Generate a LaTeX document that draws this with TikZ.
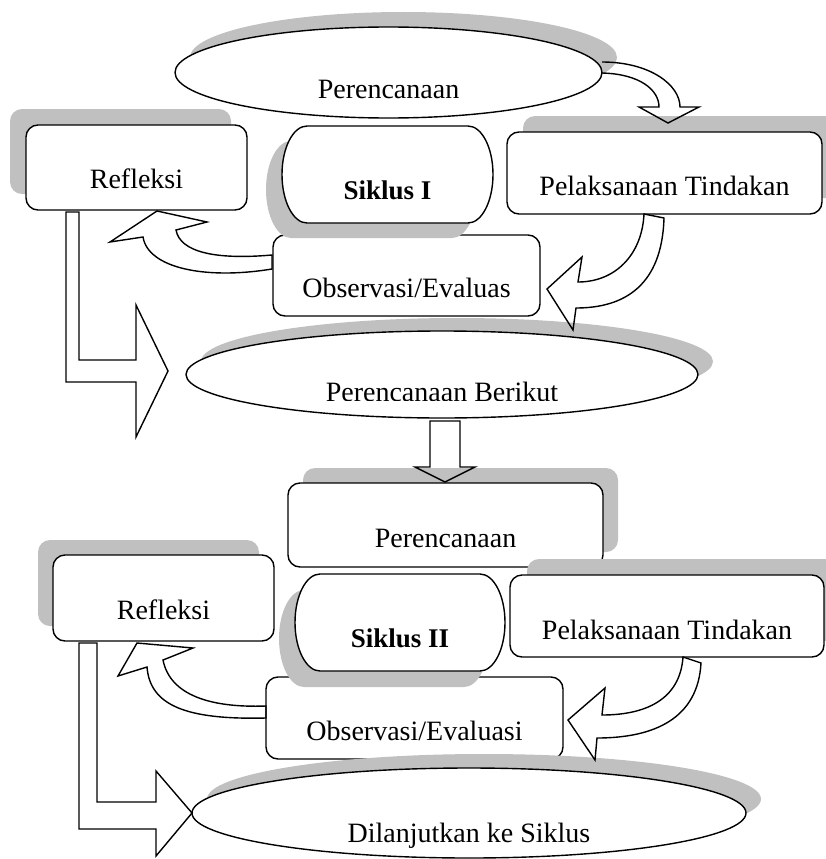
\documentclass[tikz,border=0pt]{standalone}
\usepackage{fontspec}
\setmainfont{Liberation Serif}
\usetikzlibrary{shapes.geometric,shadows}
\definecolor{shadowgray}{RGB}{192,192,192}
\begin{document}
\begin{tikzpicture}[x=1pt,y=-1pt,
  lw/.style={line width=1.4pt},
  box/.style={draw, line width=1.4pt, fill=white, rounded corners=12pt, rectangle, inner sep=0pt, outer sep=0pt},
  ell/.style={draw, line width=1.4pt, fill=white, ellipse, inner sep=0pt, outer sep=0pt},
  shad/.style 2 args={drop shadow={shadow xshift=#1, shadow yshift=#2, fill=shadowgray, opacity=1}},
  lbl/.style={anchor=base, inner sep=0pt, font=\fontsize{28}{33}\selectfont},
  blbl/.style={anchor=base, inner sep=0pt, font=\fontsize{27}{32}\selectfont\bfseries},
  barrow/.style={draw, line width=1.4pt, line join=miter},
  core/.style={rectangle, inner sep=0pt, outer sep=0pt}
]
\useasboundingbox (0,0) rectangle (826,859);
\clip (0,0) rectangle (826,859);

% ---------- Cycle I ----------
\node[ell, shad={15pt}{15pt}, minimum width=427pt, minimum height=91pt] (el1) at (388.5,72.5) {};
\node[lbl] (t1) at ([yshift=-25.5pt]el1.center) {Perencanaan};

\node[box, shad={-16pt}{16pt}, minimum width=221pt, minimum height=85pt] (ref1) at (136.5,167.5) {};
\node[lbl] (t2) at ([yshift=-20.5pt]ref1.center) {Refleksi};

\node[box, shad={16pt}{16pt}, minimum width=315pt, minimum height=82pt] (pel1) at (664.5,173) {};
\node[lbl] (t3) at ([yshift=-22pt]pel1.center) {Pelaksanaan Tindakan};

\node[box, minimum width=267pt, minimum height=81pt] (obs1) at (406.5,275.5) {};
\node[lbl] (t4) at ([yshift=-21.5pt]obs1.center) {Observasi/Evaluas};

\node[core, minimum width=161pt, minimum height=97pt] (sik1) at (387.5,174.5) {};
\draw[lw, fill=white, shad={-16pt}{-15pt}] (sik1.north west) -- (sik1.north east)
  arc[start angle=90, end angle=-90, x radius=25pt, y radius=48.5pt]
  -- (sik1.south west)
  arc[start angle=270, end angle=90, x radius=25pt, y radius=48.5pt] -- cycle;
\node[blbl] (t5) at ([yshift=-24.5pt]sik1.center) {Siklus I};

\node[ell, shad={15pt}{13pt}, minimum width=512pt, minimum height=87pt] (el2) at (442,374.5) {};
\begin{scope}
  \clip (0,0) rectangle (826,400);
  \node[lbl] (t6) at ([yshift=-27pt]el2.center) {Perencanaan Berikut};
\end{scope}

% ---------- Cycle II ----------
\node[box, shad={15pt}{15pt}, minimum width=315pt, minimum height=84pt] (per2) at (445.5,525) {};
\node[lbl] (t7) at ([yshift=-22pt]per2.center) {Perencanaan};

\node[box, shad={-15pt}{15pt}, minimum width=221pt, minimum height=86pt] (ref2) at (163.5,598) {};
\node[lbl] (t8) at ([yshift=-21pt]ref2.center) {Refleksi};

\node[box, shad={17pt}{16pt}, minimum width=314pt, minimum height=82pt] (pel2) at (667,616) {};
\node[lbl] (t9) at ([yshift=-23pt]pel2.center) {Pelaksanaan Tindakan};

\node[box, minimum width=297pt, minimum height=82pt] (obs2) at (414.5,718) {};
\node[lbl] (t10) at ([yshift=-22pt]obs2.center) {Observasi/Evaluasi};

\node[core, minimum width=160pt, minimum height=97pt] (sik2) at (400,622.5) {};
\draw[lw, fill=white, shad={-16pt}{-16pt}] (sik2.north west) -- (sik2.north east)
  arc[start angle=90, end angle=-90, x radius=25pt, y radius=48.5pt]
  -- (sik2.south west)
  arc[start angle=270, end angle=90, x radius=25pt, y radius=48.5pt] -- cycle;
\node[blbl] (t11) at ([yshift=-24.5pt]sik2.center) {Siklus II};

\node[ell, shad={15pt}{14pt}, minimum width=554pt, minimum height=90pt] (el3) at (469,813) {};
\node[lbl] (t12) at ([yshift=-29pt]el3.center) {Dilanjutkan ke Siklus};

% ---------- Block arrows ----------
% Perencanaan -> Pelaksanaan Tindakan
\draw[barrow] (602,62) .. controls (650,62) and (680,85) .. (680,107)
  -- (699,107) -- (668,123) -- (639,107) -- (659,107)
  .. controls (659,90) and (640,74) .. (602,73);
% Pelaksanaan Tindakan -> Observasi
\draw[barrow] (644,214) .. controls (642,255) and (615,282) .. (578,282)
  -- (582,257) -- (547,289) -- (573,330) -- (576,308)
  .. controls (625,308) and (662,285) .. (664,218) -- cycle;
% Observasi -> Refleksi
\draw[barrow] (272,255) .. controls (215,260) and (180,252) .. (176,230)
  -- (207,222) -- (157,211) -- (110,242) -- (143,237)
  .. controls (148,268) and (205,280) .. (272,269) -- cycle;
% Refleksi -> Perencanaan Berikut
\draw[barrow] (66,212) -- (66,382) -- (136,382) -- (136,437) -- (168,371)
  -- (136,305) -- (136,360) -- (79,360) -- (79,212) -- cycle;
% Perencanaan Berikut -> Perencanaan (II)
\draw[barrow] (430,421) -- (430,467) -- (415,467) -- (445,482) -- (475,467)
  -- (460,467) -- (460,421) -- cycle;
% Pelaksanaan Tindakan -> Observasi (II)
\draw[barrow] (683,657) .. controls (680,700) and (645,715) .. (602,715)
  -- (605,688) -- (568,720) -- (595,760) -- (597,738)
  .. controls (655,738) and (698,718) .. (701,663) -- cycle;
% Observasi -> Refleksi (II)
\draw[barrow] (266,706) .. controls (210,708) and (170,695) .. (163,660)
  -- (193,648) -- (137,643) -- (118,676) -- (147,667)
  .. controls (150,705) and (185,720) .. (266,718) -- cycle;
% Refleksi -> Dilanjutkan
\draw[barrow] (79,643) -- (79,829) -- (156,829) -- (156,856) -- (192,813)
  -- (156,771) -- (156,802) -- (97,802) -- (97,643) -- cycle;
\end{tikzpicture}
\end{document}
